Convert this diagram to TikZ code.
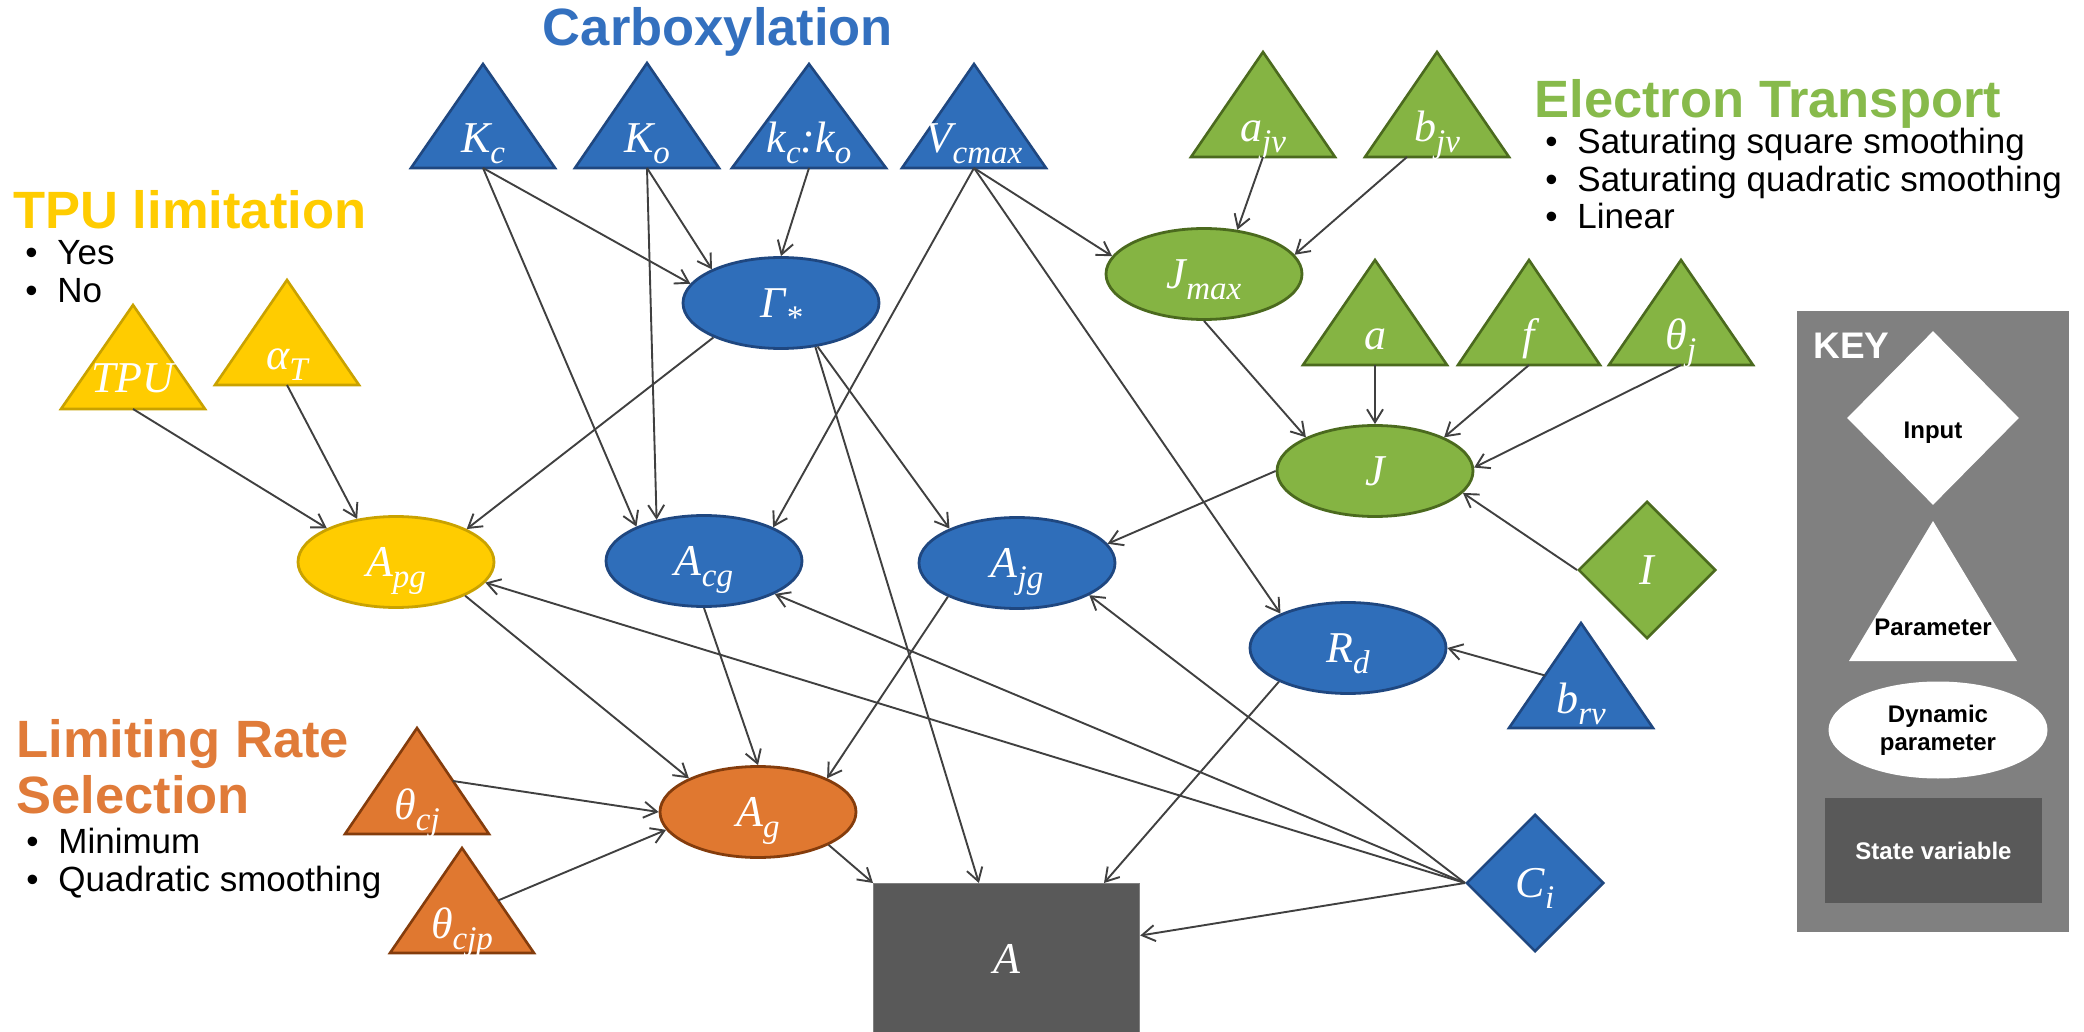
\documentclass[tikz,border=0pt]{standalone}
\usepackage{fontspec}
\setmainfont{Liberation Serif}
\newfontfamily\hfont{Liberation Sans}
\usetikzlibrary{shapes.geometric,arrows.meta,calc}

\definecolor{bluefill}{HTML}{2F6EBA}
\definecolor{blueline}{HTML}{1F4780}
\definecolor{bluetext}{HTML}{3370BF}
\definecolor{greenfill}{HTML}{85B443}
\definecolor{greenline}{HTML}{4B6A1E}
\definecolor{greentext}{HTML}{87BA4B}
\definecolor{goldfill}{HTML}{FFCC00}
\definecolor{goldline}{HTML}{C9A200}
\definecolor{orangefill}{HTML}{E07830}
\definecolor{orangeline}{HTML}{843C0C}
\definecolor{orangetext}{HTML}{E07B39}
\definecolor{statefill}{HTML}{595959}
\definecolor{keygray}{HTML}{808080}
\definecolor{edgegray}{HTML}{404040}

% lowered subscript that does not change the height of the label
\newcommand\sbs[1]{\smash{\raisebox{-5.5pt}{\fontsize{16.5}{16.5}\selectfont #1}}}

% parameter triangle: name, apex x, apex y, base y, half base, fill style
\newcommand\ptri[6]{%
  \node[tribox, minimum width={#5*1pt}, minimum height={(#4-#3)*0.5pt}] (#1) at ({#2},{(#3+#4)/2}) {};
  \path[#6] (#1.south west) -- (#1.south east) -- (#1.north) -- cycle;}

\begin{document}
\begin{tikzpicture}[x=0.5pt, y=-0.5pt,
  lblfont/.style={font=\fontsize{22}{22}\selectfont\itshape, text=white},
  edge/.style={draw=edgegray, line width=0.95pt, -{Straight Barb[length=6.5pt,width=8pt]}},
  dyn/.style={ellipse, minimum width=98pt, minimum height=45.5pt, inner sep=0pt, line width=1.4pt, lblfont},
  bluedyn/.style={dyn, fill=bluefill, draw=blueline},
  greendyn/.style={dyn, fill=greenfill, draw=greenline},
  golddyn/.style={dyn, fill=goldfill, draw=goldline},
  orangedyn/.style={dyn, fill=orangefill, draw=orangeline},
  inputbox/.style={diamond, aspect=1, minimum width=68.7pt, minimum height=68.7pt, inner sep=0pt, line width=1.3pt, lblfont},
  tribox/.style={rectangle, draw=none, fill=none, inner sep=0pt, outer sep=0pt},
  trilbl/.style={lblfont, inner sep=0pt, anchor=base},
  bluetri/.style={fill=bluefill, draw=blueline, line width=1.3pt},
  greentri/.style={fill=greenfill, draw=greenline, line width=1.3pt},
  goldtri/.style={fill=goldfill, draw=goldline, line width=1.3pt},
  orangetri/.style={fill=orangefill, draw=orangeline, line width=1.3pt},
  heading/.style={font=\hfont\bfseries\fontsize{26.25}{28}\selectfont, inner sep=0pt, anchor=base west},
  listline/.style={font=\hfont\fontsize{17.5}{19}\selectfont, inner sep=0pt, anchor=base west},
  keyfont/.style={font=\hfont\bfseries\fontsize{12}{14}\selectfont}]

\path[use as bounding box, fill=white] (0,0) rectangle (2084,1032);

% ---------- group headings ----------
\node[heading, anchor=base, text=bluetext] (carb) at (718,45.5) {Carboxylation};

\node[heading, text=greentext] (et) at (1534,118) {Electron Transport};
\node[listline] (et1) at (1545,154) {\makebox[16pt][l]{\textbullet}Saturating square smoothing};
\node[listline] (et2) at (1545,192) {\makebox[16pt][l]{\textbullet}Saturating quadratic smoothing};
\node[listline] (et3) at (1545,229) {\makebox[16pt][l]{\textbullet}Linear};

\node[heading, text=goldfill] (tpu) at (13,229) {TPU limitation};
\node[listline] (tpu1) at (25,265) {\makebox[16pt][l]{\textbullet}Yes};
\node[listline] (tpu2) at (25,303) {\makebox[16pt][l]{\textbullet}No};

\node[heading, text=orangetext] (lr1) at (16,757) {Limiting Rate};
\node[heading, text=orangetext] (lr2) at (16,813) {Selection};
\node[listline] (lrA) at (26,853) {\makebox[16pt][l]{\textbullet}Minimum};
\node[listline] (lrB) at (26,891) {\makebox[16pt][l]{\textbullet}Quadratic smoothing};

% ---------- parameters ----------
\ptri{Kc}{483}{64}{168}{72}{bluetri}
\node[trilbl] (Kc-l) at ([yshift=7.5pt]Kc.south) {K\sbs{c}};
\ptri{Ko}{647}{63}{168}{72}{bluetri}
\node[trilbl] (Ko-l) at ([yshift=7.5pt]Ko.south) {K\sbs{o}};
\ptri{kcko}{809}{64}{168}{77}{bluetri}
\node[trilbl] (kcko-l) at ([yshift=7.5pt]kcko.south) {k\sbs{c}:k\sbs{o}};
\ptri{Vc}{974}{64}{168}{72}{bluetri}
\node[trilbl] (Vc-l) at ([yshift=7.5pt]Vc.south) {V\sbs{cmax}};

\ptri{ajv}{1263}{52}{157}{72}{greentri}
\node[trilbl] (ajv-l) at ([yshift=7.5pt]ajv.south) {a\sbs{jv}};
\ptri{bjv}{1437}{52}{157}{72}{greentri}
\node[trilbl] (bjv-l) at ([yshift=7.5pt]bjv.south) {b\sbs{jv}};
\ptri{pa}{1375}{260}{365}{72}{greentri}
\node[trilbl] (pa-l) at ([yshift=7.5pt]pa.south) {a};
\ptri{pf}{1529}{260}{365}{71}{greentri}
\node[trilbl] (pf-l) at ([yshift=7.5pt]pf.south) {f};
\ptri{thj}{1681}{260}{365}{72}{greentri}
\node[trilbl] (thj-l) at ([yshift=7.5pt]thj.south) {θ\sbs{j}};

\ptri{TPU}{133}{305}{409}{72}{goldtri}
\node[trilbl] (TPU-l) at ([yshift=8pt]TPU.south) {TPU};
\ptri{alT}{287}{280}{385}{72}{goldtri}
\node[trilbl] (alT-l) at ([yshift=7.5pt]alT.south) {α\sbs{T}};

\ptri{tcj}{417}{728}{834}{72}{orangetri}
\node[trilbl] (tcj-l) at ([yshift=7.5pt]tcj.south) {θ\sbs{cj}};
\ptri{tcjp}{462}{848}{953}{72}{orangetri}
\node[trilbl] (tcjp-l) at ([yshift=7.5pt]tcjp.south) {θ\sbs{cjp}};

\ptri{brv}{1581}{623}{728}{72}{bluetri}
\node[trilbl] (brv-l) at ([yshift=7.5pt]brv.south) {b\sbs{rv}};

% ---------- dynamic parameters ----------
\node[bluedyn] (G) at (781,303) {Γ\sbs{*}};
\node[greendyn] (Jmax) at (1204,274) {J\sbs{max}};
\node[greendyn] (J) at (1375,471) {J};
\node[golddyn] (Apg) at (396,562) {A\sbs{pg}};
\node[bluedyn] (Acg) at (704,561) {A\sbs{cg}};
\node[bluedyn] (Ajg) at (1017,563) {A\sbs{jg}};
\node[bluedyn] (Rd) at (1348,648) {R\sbs{d}};
\node[orangedyn] (Ag) at (758,812) {A\sbs{g}};

% ---------- inputs ----------
\node[inputbox, fill=greenfill, draw=greenline] (I) at (1647,570) {I};
\node[inputbox, fill=bluefill, draw=blueline] (Ci) at (1535,883) {C\sbs{i}};

% ---------- state variable ----------
\node[rectangle, fill=statefill, draw=keygray, line width=0.6pt, minimum width=133pt, minimum height=75.5pt,
      anchor=north west, inner sep=0pt, lblfont] (A) at (873,883) {A};

% ---------- connectors ----------
\draw[edge] (Kc.south) -- (G.168);
\draw[edge] (Kc.south) -- (Acg.153);
\draw[edge] (Ko.south) -- (Acg.139);
\draw[edge] (Ko.south) -- (G.154);
\draw[edge] (kcko.south) -- (G.north);
\draw[edge] (Vc.south) -- (Acg.26);
\draw[edge] (Vc.south) -- (Jmax.169);
\draw[edge] (Vc.south) -- (Rd.153);
\draw[edge] (G.207) -- (Apg.25);
\draw[edge] (G.-50) -- (Ajg.153);
\draw[edge] (G.-52) -- (A.110.6);
\draw[edge] (ajv.south) -- (Jmax.53);
\draw[edge] ([xshift=-15pt]bjv.south) -- (Jmax.12);
\draw[edge] (Jmax.south) -- (J.154);
\draw[edge] (pa.south) -- (J.north);
\draw[edge] (pf.south) -- (J.26);
\draw[edge] (thj.south) -- (J.2);
\draw[edge] (I.west) -- (J.-14);
\draw[edge] (J.west) -- (Ajg.12);
\draw[edge] (TPU.south) -- (Apg.154);
\draw[edge] (alT.south) -- (Apg.132);
\draw[edge] (Ci.west) -- (Apg.-13);
\draw[edge] (Ci.west) -- (Acg.-25);
\draw[edge] (Ci.west) -- (Ajg.-24);
\draw[edge] (Ci.west) -- (A.10.8);
\draw[edge] ($(brv.south west)!0.5!(brv.north)$) -- (Rd.east);
\draw[edge] (Rd.206) -- (A.38.8);
\draw[edge] (Apg.-26) -- (Ag.154);
\draw[edge] (Acg.south) -- (Ag.north);
\draw[edge] (Ajg.206) -- (Ag.26);
\draw[edge] ($(tcj.south east)!0.5!(tcj.north)$) -- (Ag.west);
\draw[edge] ($(tcjp.south east)!0.5!(tcjp.north)$) -- (Ag.191);
\draw[edge] (Ag.-25) -- (A.north west);

% ---------- key ----------
\node[rectangle, fill=keygray, minimum width=136pt, minimum height=310.5pt, anchor=north west,
      inner sep=0pt] (keybox) at (1797,311) {};
\node[heading, text=white, font=\hfont\bfseries\fontsize{18.5}{20}\selectfont] (keytitle) at (1813,358) {KEY};
\node[diamond, fill=white, minimum width=86pt, minimum height=87pt, inner sep=0pt] (keyinput) at (1933,418) {};
\node[keyfont, inner sep=0pt, anchor=base] (keyinput-l) at (1933,438) {Input};
\ptri{keyparam}{1933}{521}{661}{84}{fill=white}
\node[keyfont, inner sep=0pt, anchor=base] (keyparam-l) at (1933,635) {Parameter};
\node[ellipse, fill=white, minimum width=109.5pt, minimum height=48.5pt, inner sep=0pt, keyfont,
      align=center] (keydyn) at (1938,730) {Dynamic\\parameter};
\node[rectangle, fill=statefill, minimum width=108.5pt, minimum height=52.5pt, inner sep=0pt,
      keyfont, text=white] (keystate) at (1933.5,850.5) {State variable};

\end{tikzpicture}
\end{document}
